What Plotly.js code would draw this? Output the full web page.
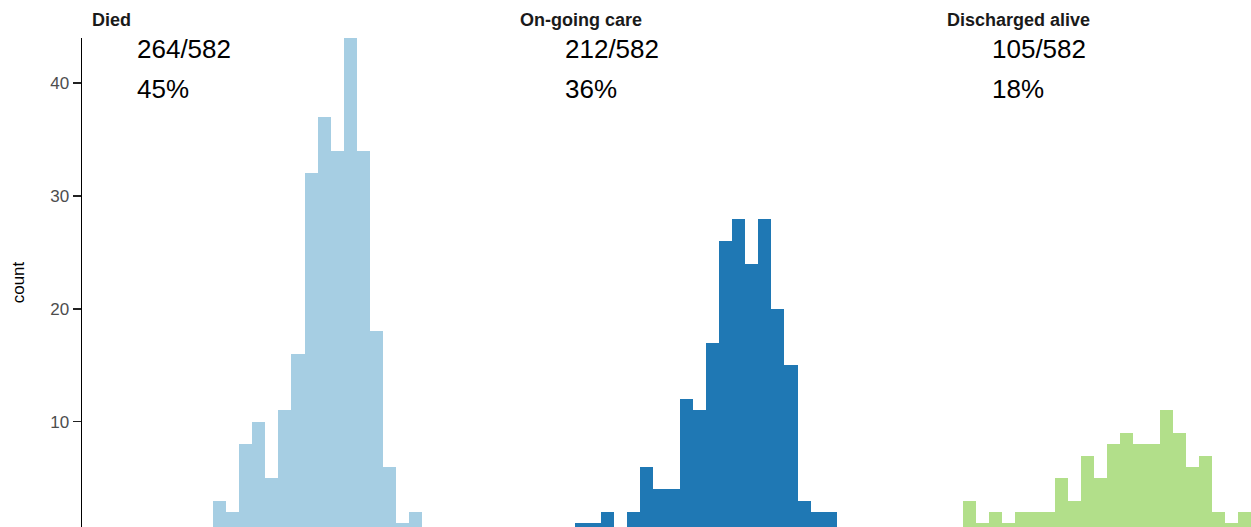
<!DOCTYPE html>
<html>
<head>
<meta charset="utf-8">
<script src="https://cdn.plot.ly/plotly-3.0.1.min.js"></script>
<style>
  html, body { margin: 0; padding: 0; background: #fff; overflow: hidden; }
  #chart { width: 1251px; height: 527px; }
</style>
</head>
<body>
<div id="chart"></div>
<script>
// ---- data ----
const groups = ["Died", "On-going care", "Discharged alive"];
const colors = ["#a6cee3", "#1f78b4", "#b2df8a"];

// histogram bins (shared bin grid, one unit per bin)
const diedBins = [8, 9, 10, 11, 12, 13, 14, 15, 16, 17, 18, 19, 20, 21, 22, 23];
const diedCounts = [3, 2, 8, 10, 5, 11, 16, 32, 37, 34, 44, 34, 18, 6, 1, 2];

const ongoingBins = [3, 4, 5, 6, 7, 8, 9, 10, 11, 12, 13, 14, 15, 16, 17, 18, 19, 20, 21, 22];
const ongoingCounts = [1, 1, 2, 0, 2, 6, 4, 4, 12, 11, 17, 26, 28, 24, 28, 20, 15, 3, 2, 2];

const dischargedBins = [0, 1, 2, 3, 4, 5, 6, 7, 8, 9, 10, 11, 12, 13, 14, 15, 16, 17, 18, 19, 20, 21];
const dischargedCounts = [3, 1, 2, 1, 2, 2, 2, 5, 3, 7, 5, 8, 9, 8, 8, 11, 9, 6, 7, 2, 1, 2];

const groupTotals = [264, 212, 105];
const grandTotal = 582;
const groupPercents = ["45%", "36%", "18%"];

const yTicks = [10, 20, 30, 40];

// ---- layout geometry ----
const W = 1251, H = 527;
const ML = 82, MT = 38;
const plotW = W - ML;           // 1169
const plotH = H - MT;           // 489
const panelLeftPx = [0, 427.5, 855];
const panelWidthPx = [410, 410, 314];
const binPx = 13.1;
const xStart = -2.485;

const binsList = [diedBins, ongoingBins, dischargedBins];
const countsList = [diedCounts, ongoingCounts, dischargedCounts];

const traces = groups.map((g, i) => ({
  type: "bar",
  name: g,
  x: binsList[i],
  y: countsList[i],
  width: 1,
  marker: { color: colors[i], line: { width: 0 } },
  xaxis: i === 0 ? "x" : "x" + (i + 1),
  yaxis: "y",
  hoverinfo: "x+y",
  showlegend: false
}));

const layout = {
  width: W, height: H,
  margin: { l: ML, r: 0, t: MT, b: 0, pad: 0 },
  paper_bgcolor: "#fff",
  plot_bgcolor: "#fff",
  bargap: 0,
  font: { family: "Liberation Sans, Arial, sans-serif", color: "#000" },
  showlegend: false,
  yaxis: {
    range: [0.665, 44],
    anchor: "x",
    tickvals: yTicks,
    ticktext: yTicks.map(String),
    showgrid: false,
    zeroline: false,
    showline: true,
    linecolor: "#000",
    linewidth: 1.5,
    ticks: "outside",
    ticklen: 8,
    tickwidth: 1.5,
    tickcolor: "#222",
    tickfont: { size: 17, color: "#4d4d4d" },
    title: { text: "count", font: { size: 17, color: "#000" }, standoff: 21 },
    automargin: false
  },
  annotations: []
};

panelLeftPx.forEach((lp, i) => {
  const key = i === 0 ? "xaxis" : "xaxis" + (i + 1);
  layout[key] = {
    domain: [lp / plotW, Math.min(1, (lp + panelWidthPx[i]) / plotW)],
    range: [xStart, xStart + panelWidthPx[i] / binPx],
    anchor: "y",
    visible: false,
    showgrid: false,
    zeroline: false
  };
  const px = (off) => (lp + off) / plotW;
  // facet title
  layout.annotations.push({
    xref: "paper", yref: "paper",
    x: px(8), y: 1 + 18 / plotH,
    xanchor: "left", yanchor: "middle",
    text: groups[i], showarrow: false,
    font: { size: 18, color: "#1a1a1a", weight: 700 }
  });
  // fraction line
  layout.annotations.push({
    xref: "paper", yref: "paper",
    x: px(53), y: 1 - 11 / plotH,
    xanchor: "left", yanchor: "middle",
    text: groupTotals[i] + "/" + grandTotal, showarrow: false,
    font: { size: 26, color: "#000" }
  });
  // percent line
  layout.annotations.push({
    xref: "paper", yref: "paper",
    x: px(53), y: 1 - 51 / plotH,
    xanchor: "left", yanchor: "middle",
    text: groupPercents[i], showarrow: false,
    font: { size: 26, color: "#000" }
  });
});

Plotly.newPlot("chart", traces, layout, { displayModeBar: false, staticPlot: true });
</script>
</body>
</html>
